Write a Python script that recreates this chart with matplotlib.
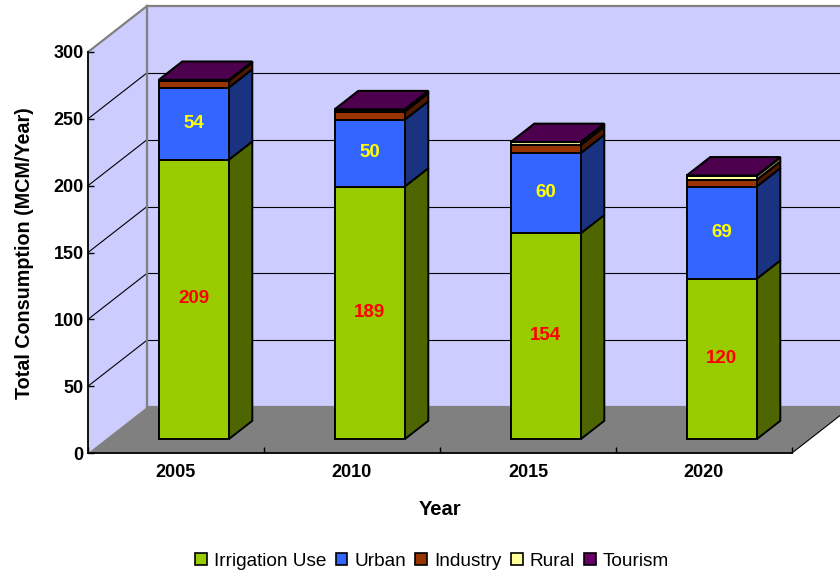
import matplotlib
matplotlib.use("Agg")
import matplotlib.pyplot as plt
from matplotlib.patches import Patch

plt.rcParams["font.family"] = ["Liberation Sans", "DejaVu Sans"]

years = ["2005", "2010", "2015", "2020"]
series = ["Irrigation Use", "Urban", "Industry", "Rural", "Tourism"]
irrigation = [209, 189, 154, 120]
urban = [54, 50, 60, 69]
industry = [5, 6, 6, 5]
rural = [0.5, 1.5, 2, 3]
tourism = [0.3, 0.3, 0.3, 0.3]
y_ticks = [0, 50, 100, 150, 200, 250, 300]

front_cols = ["#99CC00", "#3366FF", "#993300", "#FFFF99", "#660066"]
side_cols = ["#4D6600", "#1A3380", "#4D1A00", "#808050", "#330033"]
top_col = "#4D004D"
wall_col = "#CCCCFF"
floor_col = "#808080"

# depth of the fake 3d box, in axis units
depth_x = 59 / 176
depth_y = 46 * 300 / 401
bar_half = 0.4 / 2 * 70 / 70.4
d_front = 0.30
d_back = 0.70


def proj(x, y, d):
    return x + d * depth_x, y + d * depth_y


def poly(ax, pts, color, edge="none", lw=0, z=1):
    xs = [p[0] for p in pts]
    ys = [p[1] for p in pts]
    ax.fill(xs, ys, facecolor=color, edgecolor=edge, linewidth=lw,
            clip_on=False, zorder=z, joinstyle="miter")


fig = plt.figure(figsize=(8.4, 5.72), dpi=100)
ax = fig.add_axes([88 / 840, (572 - 453) / 572, (792 - 88) / 840, (453 - 52) / 572])
ax.set_xlim(0, 4)
ax.set_ylim(0, 300)
ax.patch.set_visible(False)

# walls and floor
poly(ax, [proj(0, 0, 1), proj(4, 0, 1), proj(4, 300, 1), proj(0, 300, 1)], wall_col)
poly(ax, [proj(0, 0, 0), proj(0, 0, 1), proj(0, 300, 1), proj(0, 300, 0)], wall_col)
poly(ax, [proj(0, 0, 0), proj(4, 0, 0), proj(4, 0, 1), proj(0, 0, 1)], floor_col)

# gridlines
for t in y_ticks:
    c = "#808080" if t in (0, 300) else "#000000"
    lw = 1.6 if t in (0, 300) else 0.8
    p0, p1, p2 = proj(0, t, 0), proj(0, t, 1), proj(4, t, 1)
    if t > 0:
        ax.plot([p0[0], p1[0]], [p0[1], p1[1]], color=c, lw=lw, clip_on=False, zorder=2)
    ax.plot([p1[0], p2[0]], [p1[1], p2[1]], color=c, lw=lw, clip_on=False, zorder=2)
p0, p1 = proj(0, 0, 1), proj(0, 300, 1)
ax.plot([p0[0], p1[0]], [p0[1], p1[1]], color="#808080", lw=1.6, clip_on=False, zorder=2)
p0, p1 = proj(4, 0, 0), proj(4, 0, 1)
ax.plot([p0[0], p1[0]], [p0[1], p1[1]], color="black", lw=0.8, clip_on=False, zorder=2)

# stacked bars
stack = [irrigation, urban, industry, rural, tourism]
for i in range(len(years)):
    xl = i + 0.5 - bar_half
    xr = i + 0.5 + bar_half
    base = 0
    for s, vals in enumerate(stack):
        v = vals[i]
        top = base + v
        poly(ax, [proj(xr, base, d_front), proj(xr, base, d_back),
                  proj(xr, top, d_back), proj(xr, top, d_front)],
             side_cols[s], "black", 1.4, 3)
        poly(ax, [proj(xl, base, d_front), proj(xr, base, d_front),
                  proj(xr, top, d_front), proj(xl, top, d_front)],
             front_cols[s], "black", 1.4, 3)
        if s < 2:
            cx, cy = proj(i + 0.5, base + v / 2 + 0.5, d_front)
            ax.text(cx, cy, str(v), color="red" if s == 0 else "yellow",
                    fontsize=13.5, fontweight="bold", ha="center", va="center", zorder=5)
        base = top
    poly(ax, [proj(xl, base, d_front), proj(xr, base, d_front),
              proj(xr, base, d_back), proj(xl, base, d_back)],
         top_col, "black", 1.5, 4)

# axes
for name in ("top", "right"):
    ax.spines[name].set_visible(False)
for name in ("left", "bottom"):
    ax.spines[name].set_linewidth(1.3)
    ax.spines[name].set_zorder(6)
ax.set_yticks(y_ticks)
ax.set_xticks(range(5))
ax.set_xticklabels([])
ax.set_xticks([i + 0.5 for i in range(4)], labels=years, minor=True)
ax.tick_params(axis="y", direction="in", length=4.5, width=1, pad=3, labelsize=13)
ax.tick_params(axis="x", which="major", direction="in", length=4.5, width=1)
ax.tick_params(axis="x", which="minor", length=0, pad=8, labelsize=13)
for lab in ax.get_yticklabels() + ax.get_xticklabels(minor=True):
    lab.set_fontweight("bold")

ax.set_xlabel("Year", fontsize=14.5, fontweight="bold")
ax.xaxis.set_label_coords(0.5, -0.117)
ax.set_ylabel("Total Consumption (MCM/Year)", fontsize=14.2, fontweight="bold")
ax.yaxis.set_label_coords(-0.077, 0.4975)

handles = [Patch(facecolor=c, edgecolor="black", linewidth=1.2, label=n)
           for c, n in zip(front_cols, series)]
fig.legend(handles=handles, loc="center", bbox_to_anchor=(432 / 840, 1 - 561 / 572),
           ncol=5, frameon=False, fontsize=13.7, handlelength=0.62, handleheight=0.62,
           handletextpad=0.35, columnspacing=0.5, borderpad=0)

fig.savefig("out.png", dpi=100)
